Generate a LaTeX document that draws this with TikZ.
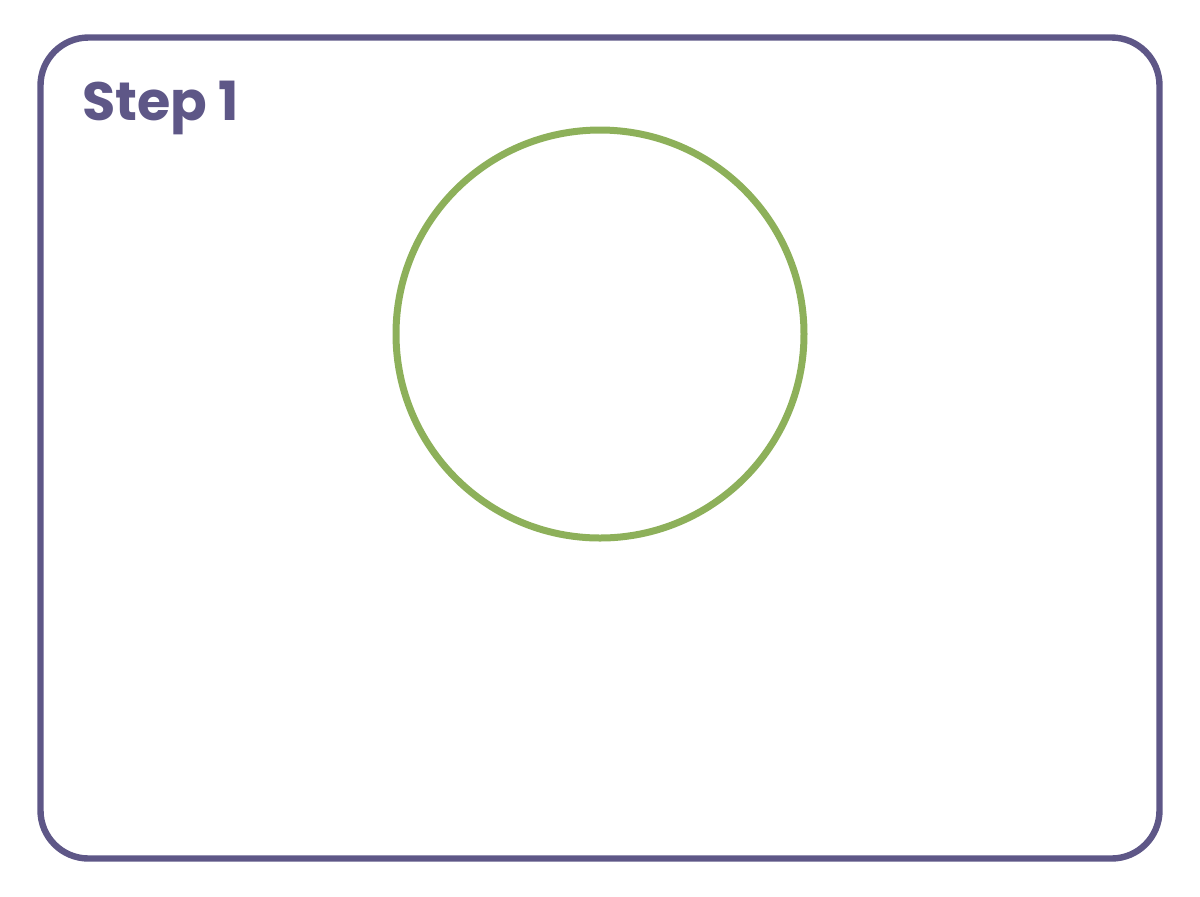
\documentclass[tikz,border=0pt]{standalone}
\usepackage{fontspec}
\setmainfont{Poppins}
\definecolor{framepurple}{HTML}{5E5787}
\definecolor{circlegreen}{HTML}{8DB05A}
\begin{document}
\begin{tikzpicture}[x=0.5pt,y=-0.5pt,
  frame/.style={draw=framepurple,line width=3.2pt,rounded corners=24pt},
  ring/.style={draw=circlegreen,line width=3.5pt},
  title/.style={text=framepurple,font=\fontsize{27}{30}\selectfont\bfseries,inner sep=0pt,anchor=base west}]
\useasboundingbox (0,0) rectangle (1200,896);
\draw[frame] (40.5,37.5) rectangle (1159.5,858.5);
\coordinate (c) at (600,334);
\draw[ring] (c) circle[radius=102pt];
\node[title] (t) at (82,120) {Step 1};
\end{tikzpicture}
\end{document}
